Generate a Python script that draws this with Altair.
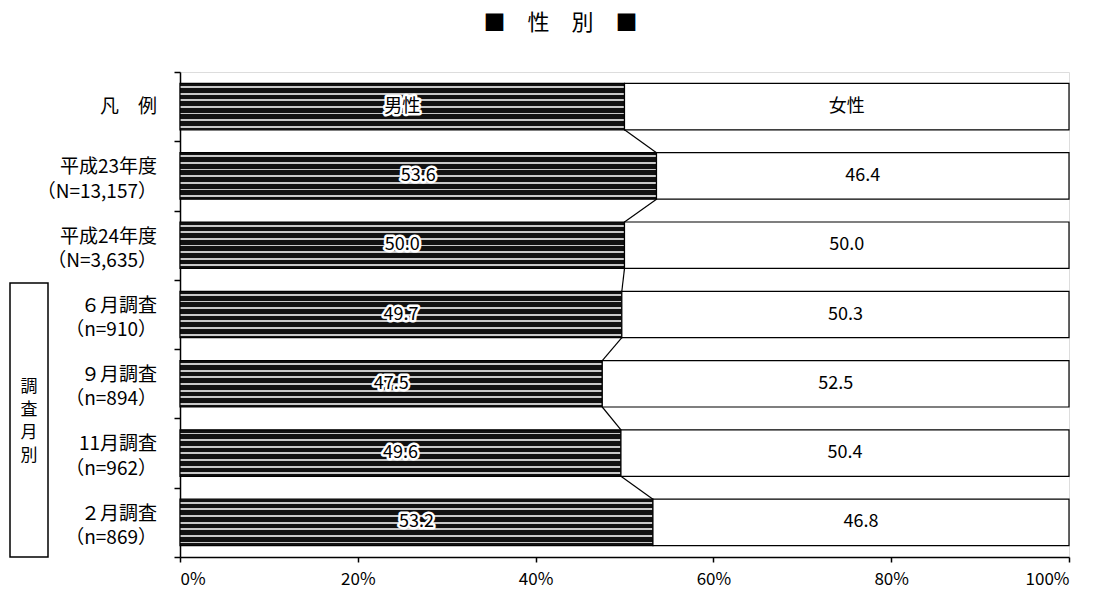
import altair as alt
import pandas as pd

# ---- data ----
line1 = ["凡　例", "平成23年度", "平成24年度", "６月調査", "９月調査", "11月調査", "２月調査"]
line2 = ["", "（N=13,157）", "（N=3,635）", "（n=910）", "（n=894）", "（n=962）", "（n=869）"]
male = [50.0, 53.6, 50.0, 49.7, 47.5, 49.6, 53.2]
female = [50.0, 46.4, 50.0, 50.3, 52.5, 50.4, 46.8]
male_text = ["男性", "53.6", "50.0", "49.7", "47.5", "49.6", "53.2"]
female_text = ["女性", "46.4", "50.0", "50.3", "52.5", "50.4", "46.8"]
group_label = "調\n査\n月\n別"
title_text = "■　性　別　■"

HALF = 0.335   # half bar thickness in row units
UP = 0.125     # first line shift of two-line labels (row units)
DOWN = 0.225   # second line shift of two-line labels (row units)
FONT = "Noto Sans CJK JP"

idx = list(range(len(line1)))
rows = pd.DataFrame({
    "idx": idx,
    "l1": line1,
    "l2": line2,
    "male": male,
    "female": female,
    "mtext": male_text,
    "ftext": female_text,
})
rows["two"] = rows["l2"].str.len() > 0
rows["y_l1"] = rows["idx"] - rows["two"] * UP
rows["y_l2"] = rows["idx"] + DOWN
rows["y0"] = rows["idx"] - HALF
rows["y1"] = rows["idx"] + HALF
rows["zero"] = 0.0
rows["end"] = rows["male"] + rows["female"]
rows["mmid"] = rows["male"] / 2
rows["fmid"] = rows["male"] + rows["female"] / 2

conn = pd.DataFrame({
    "x": male[:-1],
    "x2": male[1:],
    "y": [i + HALF for i in idx[:-1]],
    "y2": [i + 1 - HALF for i in idx[:-1]],
})

# striped fill imitating the dark dotted pattern
stops = []
n_rows = 7
dark, light = "#111111", "#c8c8c8"
for k in range(n_rows):
    a = k / n_rows
    b = (k + 0.4) / n_rows
    c = (k + 0.68) / n_rows
    d = (k + 1) / n_rows
    stops += [
        {"offset": a, "color": dark},
        {"offset": b, "color": dark},
        {"offset": b, "color": light},
        {"offset": c, "color": light},
        {"offset": c, "color": dark},
        {"offset": d, "color": dark},
    ]
male_fill = {"gradient": "linear", "x1": 0, "y1": 0, "x2": 0, "y2": 1, "stops": stops}

xscale = alt.Scale(domain=[0, 100], nice=False, zero=True)
yscale = alt.Scale(domain=[-0.5, len(line1) - 0.5], reverse=True, nice=False, zero=False)

xaxis = alt.Axis(values=[0, 20, 40, 60, 80, 100], labelExpr="datum.value + '%'",
                 title=None, grid=False, tickSize=5, labelFontSize=17, labelPadding=9,
                 labelFont=FONT, domainColor="black", tickColor="black", labelColor="black",
                 domainWidth=1.5, tickWidth=1.5)
yaxis = alt.Axis(values=[i - 0.5 for i in range(len(line1) + 1)], labels=False,
                 title=None, grid=False, tickSize=6, domainColor="black", tickColor="black",
                 domainWidth=1.5, tickWidth=1.5)

base = alt.Chart(rows)

male_bar = base.mark_rect(fill=male_fill, stroke="black", strokeWidth=1.2).encode(
    x=alt.X("zero:Q", scale=xscale, axis=xaxis),
    x2="male:Q",
    y=alt.Y("y0:Q", scale=yscale, axis=yaxis),
    y2="y1:Q",
)
female_bar = base.mark_rect(fill="white", stroke="black", strokeWidth=1.2).encode(
    x=alt.X("male:Q", scale=xscale), x2="end:Q",
    y=alt.Y("y0:Q", scale=yscale), y2="y1:Q",
)

connectors = alt.Chart(conn).mark_rule(color="black", strokeWidth=1.2).encode(
    x=alt.X("x:Q", scale=xscale), x2="x2:Q",
    y=alt.Y("y:Q", scale=yscale), y2="y2:Q",
)

def value_labels(xfield, tfield):
    halo = base.mark_text(font=FONT, fontSize=18, stroke="white", strokeWidth=5,
                          strokeJoin="round", fill="white").encode(
        x=alt.X(f"{xfield}:Q", scale=xscale), y=alt.Y("idx:Q", scale=yscale),
        text=f"{tfield}:N")
    txt = base.mark_text(font=FONT, fontSize=18, color="black").encode(
        x=alt.X(f"{xfield}:Q", scale=xscale), y=alt.Y("idx:Q", scale=yscale),
        text=f"{tfield}:N")
    return halo + txt

row_l1 = base.mark_text(font=FONT, fontSize=19, align="right", baseline="middle",
                        color="black").encode(
    x=alt.value(-23), y=alt.Y("y_l1:Q", scale=yscale), text="l1:N")
row_l2 = base.mark_text(font=FONT, fontSize=19, align="right", baseline="middle",
                        color="black").encode(
    x=alt.value(-23), y=alt.Y("y_l2:Q", scale=yscale), text="l2:N")

box_df = pd.DataFrame({"t": [group_label]})
box = alt.Chart(box_df).mark_rect(fill="white", stroke="black", strokeWidth=1.5).encode(
    x=alt.value(-170), x2=alt.value(-132), y=alt.value(211), y2=alt.value(485))
box_text = alt.Chart(box_df).mark_text(font=FONT, fontSize=17, lineBreak="\n", lineHeight=23,
                                       baseline="middle", align="center", color="black").encode(
    x=alt.value(-151), y=alt.value(315), text="t:N")

chart = alt.layer(
    male_bar, female_bar, connectors,
    value_labels("mmid", "mtext"), value_labels("fmid", "ftext"),
    row_l1, row_l2, box, box_text,
).properties(
    width=889, height=485,
    title=alt.TitleParams(title_text, font=FONT, fontSize=22, fontWeight="normal",
                          anchor="middle", frame="group", dx=-64, offset=36, color="black"),
    autosize=alt.AutoSizeParams(type="none"),
    padding={"left": 172, "top": 64, "right": 25, "bottom": 34},
).configure_view(stroke="black", strokeWidth=1.5).configure(background="white")

chart.save("out.html", embed_options={"renderer": "svg", "actions": False})
